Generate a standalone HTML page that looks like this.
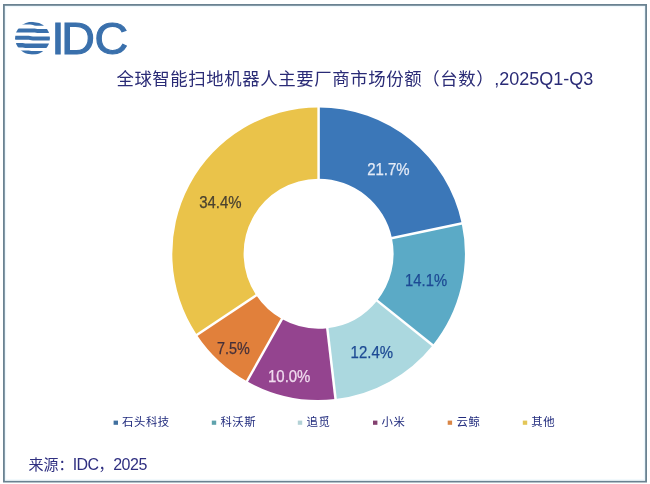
<!DOCTYPE html>
<html lang="zh-CN"><head><meta charset="utf-8"><title>IDC</title>
<style>
html,body{margin:0;padding:0;background:#fff;}
body{width:650px;height:484px;position:relative;overflow:hidden;font-family:"Liberation Sans","Noto Sans CJK SC",sans-serif;}
svg{position:absolute;left:0;top:0;}
.title{position:absolute;left:116.4px;top:65.2px;height:28px;line-height:28px;font-size:18px;color:#2A2B76;white-space:nowrap;}
.title b{font-weight:400;font-size:17.4px;letter-spacing:0.6px;}
.src span{font-size:16px;}
.src{position:absolute;left:28.5px;top:454.4px;height:22px;line-height:22px;font-size:15px;color:#2F2F80;white-space:nowrap;}
.lg{position:absolute;top:412.1px;height:20px;line-height:20px;font-size:11.4px;letter-spacing:0.55px;color:#222C7E;white-space:nowrap;}
.lbl text{font-family:"Liberation Sans",sans-serif;font-size:15.6px;}
.logo text{font-family:"Liberation Sans",sans-serif;font-size:45px;fill:#3A70AC;stroke:#3A70AC;stroke-width:1.1;}
</style></head><body>
<svg width="650" height="484" viewBox="0 0 650 484">
<defs><clipPath id="g"><ellipse cx="32.5" cy="38.15" rx="17.4" ry="16.5"/></clipPath></defs>
<rect x="4" y="5" width="642" height="476.5" fill="#fff" stroke="#6A8291" stroke-width="2"/>
<rect x="5.5" y="6.5" width="639" height="473.5" fill="none" stroke="#EEF8FD" stroke-width="1.4"/>
<g clip-path="url(#g)" fill="#3A70AC">
<path d="M10 21.8L30 21.8C33 21.8 33 22.4 36 22.4L56 22.4L56 25.7L36 25.7C33 25.7 33 24.6 30 24.6L10 24.6Z"/>
<path d="M10 28.4L33 28.4C36 28.4 36 29.0 39 29.0L56 29.0L56 33.1L39 33.1C36 33.1 36 32.4 33 32.4L10 32.4Z"/>
<path d="M10 35.7L27 35.7C30 35.7 30 36.4 33 36.4L56 36.4L56 40.5L33 40.5C30 40.5 30 39.8 27 39.8L10 39.8Z"/>
<path d="M10 43.0L21 43.0C24 43.0 24 43.6 27 43.6L56 43.6L56 47.9L27 47.9C24 47.9 24 47.4 21 47.4L10 47.4Z"/>
<path d="M10 50.4L27 50.4C30 50.4 30 51.1 33 51.1L56 51.1L56 54.6L33 54.6C30 54.6 30 53.8 27 53.8L10 53.8Z"/>
</g>
<g class="logo">
<text transform="scale(1.035 1)" x="49.7 59.25 91.35" y="53.9">IDC</text>
</g>
<g>
<path d="M318.60 107.40A146.3 146.3 0 0 1 461.73 223.39L391.97 238.16A75.0 75.0 0 0 0 318.60 178.70Z" fill="#3B77B8"/>
<path d="M461.73 223.39A146.3 146.3 0 0 1 432.70 345.28L377.09 300.65A75.0 75.0 0 0 0 391.97 238.16Z" fill="#5BAAC6"/>
<path d="M432.70 345.28A146.3 146.3 0 0 1 335.55 399.01L327.29 328.19A75.0 75.0 0 0 0 377.09 300.65Z" fill="#ABD8DF"/>
<path d="M335.55 399.01A146.3 146.3 0 0 1 246.98 381.27L281.88 319.10A75.0 75.0 0 0 0 327.29 328.19Z" fill="#94448F"/>
<path d="M246.98 381.27A146.3 146.3 0 0 1 196.91 334.91L256.22 295.33A75.0 75.0 0 0 0 281.88 319.10Z" fill="#E1803B"/>
<path d="M196.91 334.91A146.3 146.3 0 0 1 318.60 107.40L318.60 178.70A75.0 75.0 0 0 0 256.22 295.33Z" fill="#EAC34A"/>
</g>
<g stroke="#fff" stroke-width="2.5">
<line x1="318.60" y1="180.70" x2="318.60" y2="105.40"/>
<line x1="390.02" y1="238.57" x2="463.68" y2="222.97"/>
<line x1="375.53" y1="299.39" x2="434.25" y2="346.53"/>
<line x1="327.06" y1="326.21" x2="335.78" y2="401.00"/>
<line x1="282.86" y1="317.35" x2="246.00" y2="383.01"/>
<line x1="257.88" y1="294.22" x2="195.24" y2="336.02"/>
</g>
<g>
<rect x="113.6" y="420.6" width="4.4" height="4.2" fill="#41709F"/>
<rect x="211.8" y="420.6" width="4.4" height="4.2" fill="#5FA2AC"/>
<rect x="297.8" y="420.6" width="4.4" height="4.2" fill="#B3D2D6"/>
<rect x="373.0" y="420.6" width="4.4" height="4.2" fill="#83406F"/>
<rect x="447.7" y="420.6" width="4.4" height="4.2" fill="#D98646"/>
<rect x="522.8" y="420.6" width="4.4" height="4.2" fill="#E3C658"/>
</g>
<g class="lbl">
<text x="388.4" y="174.5" fill="#E3EAF6" stroke="#E3EAF6" stroke-width="0.25" text-anchor="middle" textLength="42.4" lengthAdjust="spacingAndGlyphs">21.7%</text>
<text x="426.1" y="286.2" fill="#1D4A94" stroke="#1D4A94" stroke-width="0.25" text-anchor="middle" textLength="42.0" lengthAdjust="spacingAndGlyphs">14.1%</text>
<text x="371.8" y="358.0" fill="#1D4A94" stroke="#1D4A94" stroke-width="0.25" text-anchor="middle" textLength="42.4" lengthAdjust="spacingAndGlyphs">12.4%</text>
<text x="289.2" y="382.0" fill="#F0DCEF" stroke="#F0DCEF" stroke-width="0.25" text-anchor="middle" textLength="42.4" lengthAdjust="spacingAndGlyphs">10.0%</text>
<text x="233.5" y="354.3" fill="#45303A" stroke="#45303A" stroke-width="0.25" text-anchor="middle" textLength="32.8" lengthAdjust="spacingAndGlyphs">7.5%</text>
<text x="220.4" y="207.7" fill="#4A4230" stroke="#4A4230" stroke-width="0.25" text-anchor="middle" textLength="42.4" lengthAdjust="spacingAndGlyphs">34.4%</text>
</g>
</svg>
<div class="title"><b>全球智能扫地机器人主要厂商市场份额（台数）</b>,2025Q1-Q3</div>
<span class="lg" style="left:122.0px">石头科技</span>
<span class="lg" style="left:220.4px">科沃斯</span>
<span class="lg" style="left:306.6px">追觅</span>
<span class="lg" style="left:381.5px">小米</span>
<span class="lg" style="left:456.6px">云鲸</span>
<span class="lg" style="left:531.2px">其他</span>
<div class="src">来源：<span style="letter-spacing:-0.6px;margin-left:-0.8px">IDC</span>，<span style="letter-spacing:-0.5px;margin-left:-0.3px">2025</span></div>
</body></html>
